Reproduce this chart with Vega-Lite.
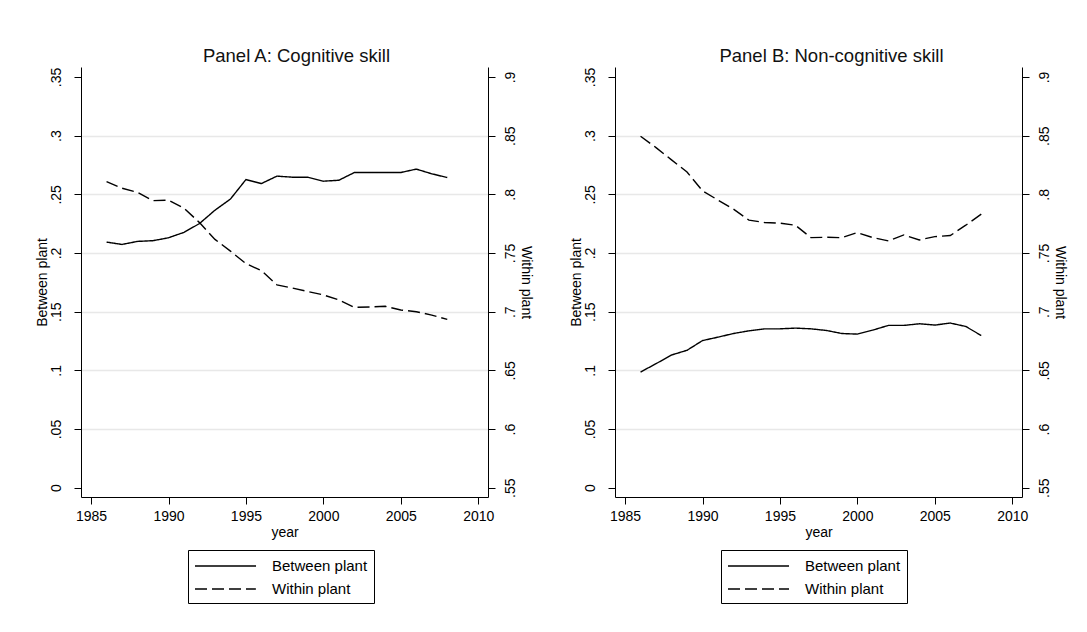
{
  "$schema": "https://vega.github.io/schema/vega-lite/v6.json",
  "background": "white",
  "padding": {"left": 34, "top": 46, "right": 5, "bottom": 5},
  "config": {
    "view": {"stroke": null},
    "font": "Liberation Sans",
    "axis": {"labelFont": "Liberation Sans", "titleFont": "Liberation Sans", "labelColor": "black", "titleColor": "black", "titleFontWeight": "normal", "domainColor": "black", "tickColor": "black", "labelFontSize": 14, "titleFontSize": 14, "tickSize": 7, "domainWidth": 1, "tickWidth": 1},
    "title": {"font": "Liberation Sans", "fontSize": 18.5, "fontWeight": "normal", "color": "#111"},
    "legend": {"labelFont": "Liberation Sans", "labelColor": "black"}
  },
  "data": {"values": [
    {"panel": "A", "year": 1986, "between": 0.2093, "within": 0.8109},
    {"panel": "A", "year": 1987, "between": 0.2073, "within": 0.8052},
    {"panel": "A", "year": 1988, "between": 0.2099, "within": 0.8017},
    {"panel": "A", "year": 1989, "between": 0.2105, "within": 0.7946},
    {"panel": "A", "year": 1990, "between": 0.2130, "within": 0.7951},
    {"panel": "A", "year": 1991, "between": 0.2176, "within": 0.7883},
    {"panel": "A", "year": 1992, "between": 0.2251, "within": 0.7759},
    {"panel": "A", "year": 1993, "between": 0.2365, "within": 0.7616},
    {"panel": "A", "year": 1994, "between": 0.2460, "within": 0.7516},
    {"panel": "A", "year": 1995, "between": 0.2626, "within": 0.7410},
    {"panel": "A", "year": 1996, "between": 0.2592, "within": 0.7350},
    {"panel": "A", "year": 1997, "between": 0.2655, "within": 0.7229},
    {"panel": "A", "year": 1998, "between": 0.2646, "within": 0.7201},
    {"panel": "A", "year": 1999, "between": 0.2646, "within": 0.7172},
    {"panel": "A", "year": 2000, "between": 0.2612, "within": 0.7143},
    {"panel": "A", "year": 2001, "between": 0.2620, "within": 0.7100},
    {"panel": "A", "year": 2002, "between": 0.2686, "within": 0.7037},
    {"panel": "A", "year": 2003, "between": 0.2686, "within": 0.7040},
    {"panel": "A", "year": 2004, "between": 0.2686, "within": 0.7046},
    {"panel": "A", "year": 2005, "between": 0.2686, "within": 0.7014},
    {"panel": "A", "year": 2006, "between": 0.2715, "within": 0.7000},
    {"panel": "A", "year": 2007, "between": 0.2675, "within": 0.6971},
    {"panel": "A", "year": 2008, "between": 0.2643, "within": 0.6934},
    {"panel": "B", "year": 1986, "between": 0.0986, "within": 0.8495},
    {"panel": "B", "year": 1987, "between": 0.1057, "within": 0.8398},
    {"panel": "B", "year": 1988, "between": 0.1131, "within": 0.8294},
    {"panel": "B", "year": 1989, "between": 0.1171, "within": 0.8190},
    {"panel": "B", "year": 1990, "between": 0.1254, "within": 0.8030},
    {"panel": "B", "year": 1991, "between": 0.1283, "within": 0.7951},
    {"panel": "B", "year": 1992, "between": 0.1314, "within": 0.7874},
    {"panel": "B", "year": 1993, "between": 0.1337, "within": 0.7780},
    {"panel": "B", "year": 1994, "between": 0.1354, "within": 0.7760},
    {"panel": "B", "year": 1995, "between": 0.1354, "within": 0.7754},
    {"panel": "B", "year": 1996, "between": 0.1360, "within": 0.7737},
    {"panel": "B", "year": 1997, "between": 0.1354, "within": 0.7631},
    {"panel": "B", "year": 1998, "between": 0.1340, "within": 0.7634},
    {"panel": "B", "year": 1999, "between": 0.1314, "within": 0.7631},
    {"panel": "B", "year": 2000, "between": 0.1309, "within": 0.7674},
    {"panel": "B", "year": 2001, "between": 0.1343, "within": 0.7631},
    {"panel": "B", "year": 2002, "between": 0.1383, "within": 0.7603},
    {"panel": "B", "year": 2003, "between": 0.1383, "within": 0.7654},
    {"panel": "B", "year": 2004, "between": 0.1397, "within": 0.7611},
    {"panel": "B", "year": 2005, "between": 0.1386, "within": 0.7640},
    {"panel": "B", "year": 2006, "between": 0.1403, "within": 0.7649},
    {"panel": "B", "year": 2007, "between": 0.1374, "within": 0.7737},
    {"panel": "B", "year": 2008, "between": 0.1297, "within": 0.7831}
  ]},
  "spacing": 36,
  "resolve": {"scale": {"strokeDash": "independent"}, "legend": {"strokeDash": "independent"}},
  "hconcat": [
    {
      "width": 407, "height": 430,
      "title": {"text": "Panel A: Cognitive skill", "dx": 12, "offset": 2},
      "transform": [{"filter": "datum.panel == 'A'"}],
      "layer": [
        {
          "mark": {"type": "line", "color": "black", "strokeWidth": 1.4},
          "encoding": {
            "x": {"field": "year", "type": "quantitative", "scale": {"domain": [1984.35, 2010.63], "nice": false, "zero": false}, "axis": {"values": [1985, 1990, 1995, 2000, 2005, 2010], "format": "d", "title": "year", "titlePadding": 2, "labelPadding": 5, "grid": false}},
            "y": {"field": "between", "type": "quantitative", "scale": {"domain": [-0.0079, 0.3585], "nice": false, "zero": false}, "axis": {"orient": "left", "values": [0, 0.05, 0.1, 0.15, 0.2, 0.25, 0.3, 0.35], "labelExpr": "replace(format(datum.value, '.2~f'), /^0\\./, '.')", "labelAngle": -90, "labelAlign": "center", "labelBaseline": "bottom", "labelPadding": 11, "title": "Between plant", "titlePadding": 0, "grid": true, "gridColor": "#e8e8e8", "gridWidth": 1.3, "gridOpacity": {"condition": {"test": "datum.value == 0 || datum.value == 0.35", "value": 0}, "value": 1}}},
            "strokeDash": {"datum": "Between plant", "type": "nominal", "scale": {"domain": ["Between plant", "Within plant"], "range": [[1, 0], [12, 5]]}, "legend": {"orient": "none", "legendX": 107, "legendY": 483, "direction": "vertical", "title": null, "strokeColor": "black", "padding": 6, "symbolType": "M-1,0H5.78", "symbolSize": 324, "symbolStrokeWidth": 1.3, "symbolStrokeColor": "black", "labelFontSize": 15, "rowPadding": 5, "labelOffset": 58, "labelExpr": "datum.label + '  '"}}
          }
        },
        {
          "mark": {"type": "line", "color": "black", "strokeWidth": 1.4},
          "encoding": {
            "x": {"field": "year", "type": "quantitative"},
            "y": {"field": "within", "type": "quantitative", "scale": {"domain": [0.5421, 0.9085], "nice": false, "zero": false}, "axis": {"orient": "right", "values": [0.55, 0.6, 0.65, 0.7, 0.75, 0.8, 0.85, 0.9], "labelExpr": "replace(format(datum.value, '.2~f'), /^0\\./, '.')", "labelAngle": -90, "labelAlign": "center", "labelBaseline": "top", "labelPadding": 8, "title": "Within plant", "titlePadding": 1, "grid": false}},
            "strokeDash": {"datum": "Within plant", "type": "nominal"}
          }
        }
      ],
      "resolve": {"scale": {"y": "independent"}}
    },
    {
      "width": 407, "height": 430,
      "title": {"text": "Panel B: Non-cognitive skill", "dx": 13, "offset": 2},
      "transform": [{"filter": "datum.panel == 'B'"}],
      "layer": [
        {
          "mark": {"type": "line", "color": "black", "strokeWidth": 1.4},
          "encoding": {
            "x": {"field": "year", "type": "quantitative", "scale": {"domain": [1984.35, 2010.63], "nice": false, "zero": false}, "axis": {"values": [1985, 1990, 1995, 2000, 2005, 2010], "format": "d", "title": "year", "titlePadding": 2, "labelPadding": 5, "grid": false}},
            "y": {"field": "between", "type": "quantitative", "scale": {"domain": [-0.0079, 0.3585], "nice": false, "zero": false}, "axis": {"orient": "left", "values": [0, 0.05, 0.1, 0.15, 0.2, 0.25, 0.3, 0.35], "labelExpr": "replace(format(datum.value, '.2~f'), /^0\\./, '.')", "labelAngle": -90, "labelAlign": "center", "labelBaseline": "bottom", "labelPadding": 11, "title": "Between plant", "titlePadding": 0, "grid": true, "gridColor": "#e8e8e8", "gridWidth": 1.3, "gridOpacity": {"condition": {"test": "datum.value == 0 || datum.value == 0.35", "value": 0}, "value": 1}}},
            "strokeDash": {"datum": "Between plant", "type": "nominal", "scale": {"domain": ["Between plant", "Within plant"], "range": [[1, 0], [12, 5]]}, "legend": {"orient": "none", "legendX": 106, "legendY": 483, "direction": "vertical", "title": null, "strokeColor": "black", "padding": 6, "symbolType": "M-1,0H5.78", "symbolSize": 324, "symbolStrokeWidth": 1.3, "symbolStrokeColor": "black", "labelFontSize": 15, "rowPadding": 5, "labelOffset": 58, "labelExpr": "datum.label + '  '"}}
          }
        },
        {
          "mark": {"type": "line", "color": "black", "strokeWidth": 1.4},
          "encoding": {
            "x": {"field": "year", "type": "quantitative"},
            "y": {"field": "within", "type": "quantitative", "scale": {"domain": [0.5421, 0.9085], "nice": false, "zero": false}, "axis": {"orient": "right", "values": [0.55, 0.6, 0.65, 0.7, 0.75, 0.8, 0.85, 0.9], "labelExpr": "replace(format(datum.value, '.2~f'), /^0\\./, '.')", "labelAngle": -90, "labelAlign": "center", "labelBaseline": "top", "labelPadding": 8, "title": "Within plant", "titlePadding": 1, "grid": false}},
            "strokeDash": {"datum": "Within plant", "type": "nominal"}
          }
        }
      ],
      "resolve": {"scale": {"y": "independent"}}
    }
  ]
}
